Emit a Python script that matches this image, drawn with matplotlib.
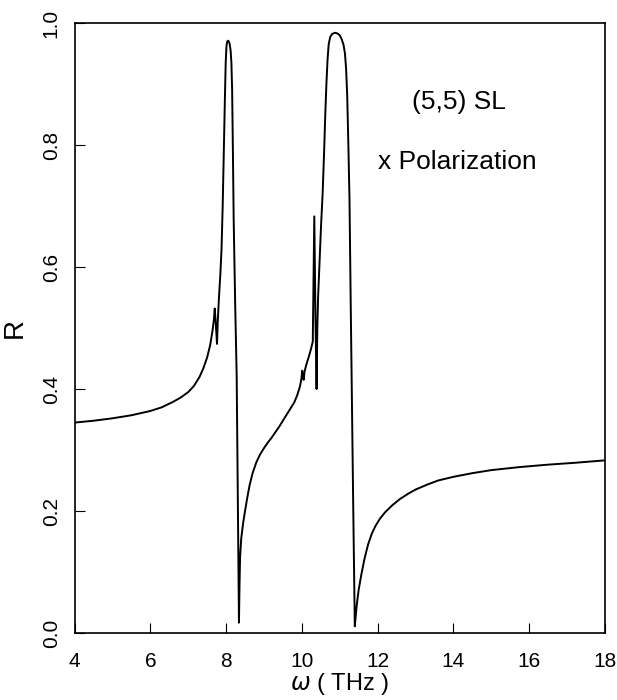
import matplotlib
matplotlib.use("Agg")
import matplotlib.pyplot as plt

plt.rcParams['font.family'] = ['Liberation Sans', 'DejaVu Sans']

# reflectivity curve
omega = [4.0, 4.5, 5.0, 5.5, 6.0, 6.3, 6.6, 6.8, 7.0, 7.15, 7.3, 7.4, 7.5, 7.58,
         7.64, 7.68, 7.70, 7.72, 7.745, 7.76, 7.78, 7.81, 7.85, 7.88, 7.91, 7.94,
         7.97, 7.99, 8.01, 8.03, 8.06, 8.09, 8.12, 8.14, 8.16, 8.18, 8.20, 8.24,
         8.28, 8.31, 8.34, 8.355, 8.37, 8.40, 8.45, 8.50, 8.56, 8.62, 8.70, 8.80,
         8.90, 9.0, 9.1, 9.2, 9.3, 9.4, 9.5, 9.6, 9.7, 9.8, 9.88, 9.95, 9.99,
         10.01, 10.03, 10.05, 10.07, 10.12, 10.18, 10.24, 10.29, 10.33, 10.36,
         10.39, 10.41, 10.43, 10.47, 10.51, 10.55, 10.59, 10.62, 10.65, 10.68,
         10.71, 10.75, 10.80, 10.87, 10.94, 11.00, 11.05, 11.10, 11.14, 11.17,
         11.20, 11.23, 11.26, 11.29, 11.32, 11.36, 11.40, 11.42, 11.45, 11.50,
         11.57, 11.65, 11.75, 11.85, 11.95, 12.06, 12.2, 12.4, 12.6, 12.8, 13.0,
         13.3, 13.6, 14.0, 14.5, 15.0, 15.75, 16.5, 17.2, 18.0]
refl = [0.345, 0.348, 0.352, 0.357, 0.364, 0.370, 0.379, 0.386, 0.395, 0.405, 0.42,
        0.434, 0.452, 0.472, 0.495, 0.515, 0.532, 0.515, 0.49, 0.474, 0.51, 0.548,
        0.59, 0.63, 0.70, 0.79, 0.88, 0.935, 0.962, 0.970, 0.971, 0.967, 0.955,
        0.935, 0.89, 0.79, 0.68, 0.54, 0.42, 0.22, 0.017, 0.08, 0.125, 0.155, 0.18,
        0.200, 0.222, 0.242, 0.262, 0.280, 0.293, 0.303, 0.312, 0.320, 0.329,
        0.338, 0.348, 0.358, 0.368, 0.378, 0.390, 0.404, 0.417, 0.43, 0.42, 0.415,
        0.428, 0.44, 0.452, 0.465, 0.478, 0.683, 0.52, 0.40, 0.50, 0.55, 0.61,
        0.67, 0.72, 0.79, 0.85, 0.90, 0.94, 0.965, 0.977, 0.982, 0.984, 0.983,
        0.980, 0.974, 0.965, 0.950, 0.925, 0.88, 0.80, 0.71, 0.55, 0.40, 0.20,
        0.011, 0.025, 0.045, 0.07, 0.095, 0.12, 0.145, 0.163, 0.176, 0.187, 0.198,
        0.210, 0.220, 0.228, 0.235, 0.243, 0.250, 0.256, 0.262, 0.267, 0.272,
        0.276, 0.279, 0.283]

xticks = [4, 6, 8, 10, 12, 14, 16, 18]
yticks = [0.0, 0.2, 0.4, 0.6, 0.8, 1.0]

fig = plt.figure(figsize=(6.17, 7.0), dpi=100)
ax = fig.add_axes([0.121, 0.0957, 0.859, 0.8714])

ax.plot(omega, refl, color='black', lw=1.4, solid_joinstyle='round')

ax.set_xlim(4, 18)
ax.set_ylim(0.009, 0.997)
ax.set_xticks(xticks)
ax.set_xticklabels([str(t) for t in xticks])
ax.set_yticks(yticks)
ax.set_yticklabels(['%.1f' % t for t in yticks], rotation=90, va='center')

ax.tick_params(axis='both', direction='in', length=7, width=0.8, labelsize=15)
ax.tick_params(axis='x', pad=14)
ax.tick_params(axis='y', pad=10)
for s in ax.spines.values():
    s.set_linewidth(1.2)

ax.set_xlabel(r'$\omega$ ( THz )', fontsize=17)
ax.xaxis.set_label_coords(0.5, -0.062)
ax.set_ylabel('R', fontsize=20, labelpad=10)

ax.text(0.636, 0.87, '(5,5) SL', transform=ax.transAxes, fontsize=19,
        ha='left', va='center')
ax.text(0.572, 0.772, 'x Polarization', transform=ax.transAxes, fontsize=19,
        ha='left', va='center')

fig.savefig('out.png', dpi=100)
